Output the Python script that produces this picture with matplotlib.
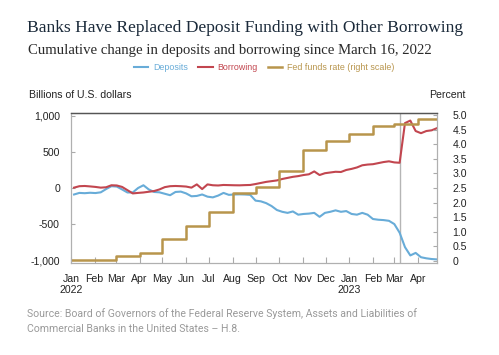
import numpy as np
import pandas as pd
import matplotlib
matplotlib.use("Agg")
import matplotlib.pyplot as plt
from matplotlib.ticker import FixedLocator, FuncFormatter

# ----------------------------
# Data
# ----------------------------
# weekly H.8 dates (Wednesdays)
weeks = pd.date_range("2022-01-05", periods=69, freq="7D")

deposits = [
    -90, -68, -72, -66, -70, -60, -15, 25, 20, -20,
    -62, -62, 0, 38, -20, -55, -60, -80, -100, -55,
    -50, -75, -115, -110, -90, -120, -130, -105, -68, -95,
    -90, -88, -90, -95, -175, -185, -210, -250, -305, -330,
    -345, -325, -370, -360, -355, -345, -400, -345, -330, -310,
    -330, -320, -360, -370, -345, -370, -430, -440, -445, -455,
    -500, -620, -820, -935, -900, -960, -975, -985, -990,
]

borrowing = [
    5, 25, 28, 22, 15, 5, 10, 38, 35, 15,
    -30, -75, -68, -62, -52, -42, -20, 12, 25, 28,
    25, 20, 5, 50, -15, 50, 38, 35, 42, 40,
    38, 37, 40, 42, 55, 70, 85, 95, 105, 125,
    140, 155, 165, 180, 190, 230, 180, 205, 215, 225,
    222, 250, 265, 285, 315, 325, 330, 345, 360, 370,
    355, 350, 900, 935, 790, 760, 790, 800, 830,
]

# monthly average fed funds rate, percent
ff_months = pd.date_range("2022-01-01", "2023-04-01", freq="MS")
ff_rate = [0.03, 0.03, 0.15, 0.28, 0.75, 1.20, 1.66, 2.33,
           2.55, 3.08, 3.80, 4.12, 4.36, 4.62, 4.70, 4.88]

x_start = pd.Timestamp("2022-01-01")
x_end = pd.Timestamp("2023-04-26")
svb_date = pd.Timestamp("2023-03-08")

blue = "#68acd8"
red = "#c2464f"
gold = "#b8954c"

plt.rcParams['font.family'] = ['Liberation Sans', 'DejaVu Sans']

fig = plt.figure(figsize=(4.99, 3.55), dpi=100)
ax = fig.add_axes([71/499, 1 - 263/355, (437 - 71)/499, 150/355])
ax2 = ax.twinx()

l1, = ax.plot(weeks, deposits, color=blue, lw=1.5, label="Deposits")
l2, = ax.plot(weeks, borrowing, color=red, lw=1.5, label="Borrowing")
ax.axvline(svb_date, color="#b5b5b5", lw=1.0, zorder=0)

ff_x = list(ff_months) + [x_end]
ff_y = ff_rate + [ff_rate[-1]]
l3, = ax2.plot(ff_x, ff_y, color=gold, lw=1.8, drawstyle="steps-post",
               label="Fed funds rate (right scale)")

ax.set_xlim(x_start, x_end)
ax.set_ylim(-1040, 1040)
ax2.set_ylim(-0.08, 5.08)

# ticks
ax.yaxis.set_major_locator(FixedLocator([-1000, -500, 0, 500, 1000]))
ax.yaxis.set_major_formatter(FuncFormatter(lambda v, p: f"{v:,.0f}"))
ax2.yaxis.set_major_locator(FixedLocator(np.arange(0, 5.01, 0.5)))
ax2.yaxis.set_major_formatter(FuncFormatter(lambda v, p: "0" if v == 0 else f"{v:.1f}"))

month_ticks = pd.date_range("2022-01-01", "2023-04-01", freq="MS")
labels = []
for d in month_ticks:
    s = d.strftime("%b")
    if d.month == 1:
        s += "\n" + str(d.year)
    labels.append(s)
ax.set_xticks(month_ticks)
ax.set_xticklabels(labels, linespacing=1.05)

ax.tick_params(axis="x", direction="in", length=4, color="#aaaaaa",
               labelsize=7.6, labelcolor="#222222", pad=8)
ax.tick_params(axis="y", direction="in", length=3, color="#aaaaaa",
               labelsize=7.6, labelcolor="#222222", pad=8)
ax2.tick_params(axis="y", direction="in", length=3, color="#aaaaaa",
                labelsize=7.6, labelcolor="#222222", pad=11)

for a in (ax, ax2):
    for side in ("left", "right", "bottom"):
        a.spines[side].set_color("#b0b0b0")
        a.spines[side].set_linewidth(0.8)
    a.spines["top"].set_color("#555555")
    a.spines["top"].set_linewidth(0.9)

# titles and annotations
fig.text(27/499, 1 - 32/355, "Banks Have Replaced Deposit Funding with Other Borrowing",
         family=["Liberation Serif", "DejaVu Serif"], fontsize=12.6, color="#1b2a3a",
         ha="left", va="baseline")
fig.text(28/499, 1 - 54/355, "Cumulative change in deposits and borrowing since March 16, 2022",
         family=["Liberation Serif", "DejaVu Serif"], fontsize=10.6, color="#2a2a2a",
         ha="left", va="baseline")
fig.text(29/499, 1 - 95/355, "Billions of U.S. dollars", fontsize=7.6,
         color="#222222", ha="left", va="center")
fig.text(466/499, 1 - 95/355, "Percent", fontsize=7.6,
         color="#222222", ha="right", va="center")

fig.legend(handles=[l1, l2, l3], loc="center", bbox_to_anchor=(264/499, 1 - 68/355),
           ncol=3, frameon=False, fontsize=6.4, handlelength=1.6, handletextpad=0.5,
           columnspacing=1.2, labelcolor="linecolor")

src = ("Source: Board of Governors of the Federal Reserve System, Assets and Liabilities of\n"
       "Commercial Banks in the United States \u2013 H.8.")
fig.text(27/499, 1 - 308/355, src, family=["Roboto", "DejaVu Sans"],
         fontsize=7.6, color="#9a9a9a", ha="left", va="top", linespacing=1.6)

fig.savefig("out.png", dpi=100)
